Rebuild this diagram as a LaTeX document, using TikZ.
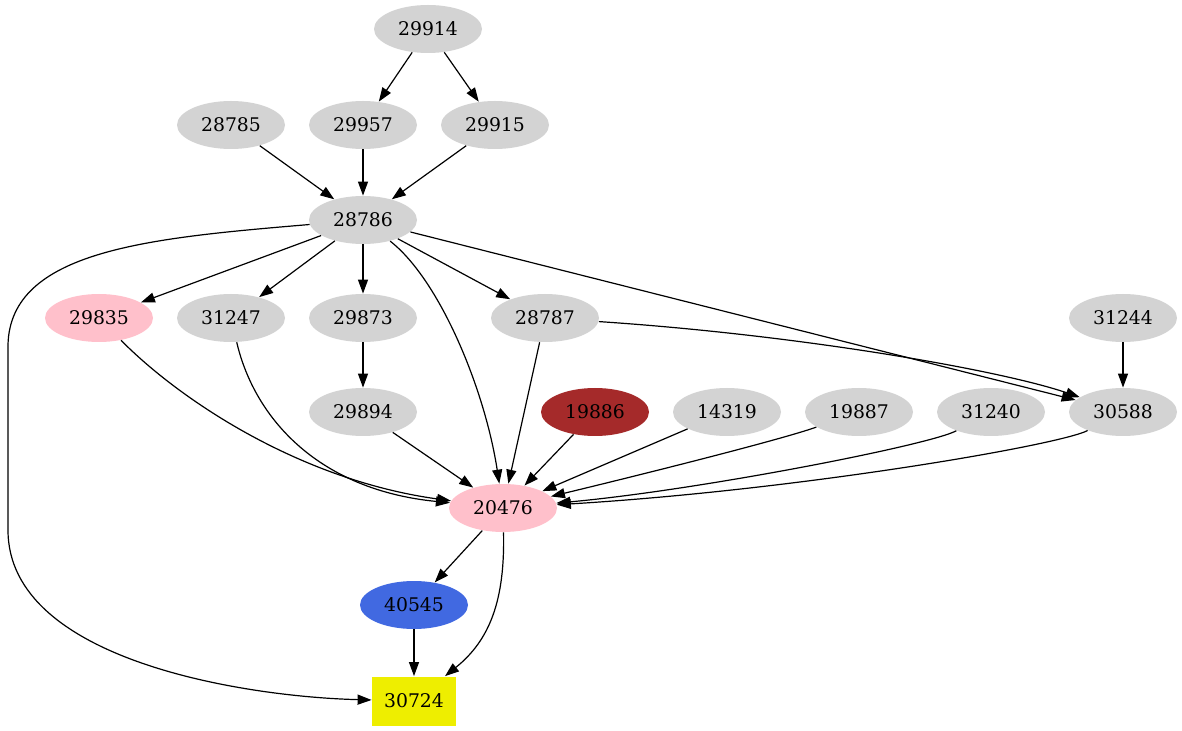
\documentclass[tikz,border=0pt]{standalone}
\usepackage{fontspec}
\setmainfont{DejaVu Serif}
\usetikzlibrary{shapes.geometric,arrows.meta}
\definecolor{node-gray}{HTML}{D3D3D3}
\definecolor{node-pink}{HTML}{FFC0CB}
\definecolor{node-brown}{HTML}{A52A2A}
\definecolor{node-blue}{HTML}{4169E1}
\definecolor{node-yellow}{HTML}{EEEE00}
\tikzset{
    base-node/.style = {ellipse, minimum width=54pt, minimum height=24pt, inner sep=0pt, font=\fontsize{9.4}{11}\selectfont},
    gray-node/.style = {base-node, fill=node-gray},
    pink-node/.style = {base-node, fill=node-pink},
    brown-node/.style = {base-node, fill=node-brown},
    blue-node/.style = {base-node, fill=node-blue},
    box-node/.style = {rectangle, fill=node-yellow, minimum width=42pt, minimum height=24.5pt, inner sep=0pt, font=\fontsize{9.4}{11}\selectfont},
    edge/.style = {-{Triangle[length=7pt, width=5pt]}, line width=0.6pt},
}

\begin{document}
\begin{tikzpicture}[x=0.5pt, y=-0.5pt]
\useasboundingbox (0,0) rectangle (1182,731);
\node[gray-node] (n29914) at (428,29) {29914};
\node[gray-node] (n28785) at (231,125) {28785};
\node[gray-node] (n29957) at (363,125) {29957};
\node[gray-node] (n29915) at (495,125) {29915};
\node[gray-node] (n28786) at (363,220) {28786};
\node[pink-node] (n29835) at (99,318) {29835};
\node[gray-node] (n31247) at (231,318) {31247};
\node[gray-node] (n29873) at (363,318) {29873};
\node[gray-node] (n28787) at (545,318) {28787};
\node[gray-node] (n31244) at (1123,318) {31244};
\node[gray-node] (n29894) at (363,412) {29894};
\node[brown-node] (n19886) at (595,412) {19886};
\node[gray-node] (n14319) at (727,412) {14319};
\node[gray-node] (n19887) at (859,412) {19887};
\node[gray-node] (n31240) at (991,412) {31240};
\node[gray-node] (n30588) at (1123,412) {30588};
\node[pink-node] (n20476) at (503,508) {20476};
\node[blue-node] (n40545) at (414,605) {40545};
\node[box-node] (n30724) at (414,701) {30724};

\draw[edge] (n29914) -- (n29957);
\draw[edge] (n29914) -- (n29915);
\draw[edge] (n28785) -- (n28786);
\draw[edge] (n29957) -- (n28786);
\draw[edge] (n29915) -- (n28786);
\draw[edge] (n28786) .. controls (150,238) and (10,250) .. (8,345) -- (8,530) .. controls (8,662) and (250,697) .. (n30724);
\draw[edge] (n28786) -- (n29835);
\draw[edge] (n28786) -- (n31247);
\draw[edge] (n28786) -- (n29873);
\draw[edge] (n28786) .. controls (440,280) and (485,390) .. (n20476);
\draw[edge] (n28786) -- (n28787);
\draw[edge] (n28786) -- (n30588);
\draw[edge] (n29835) .. controls (180,400) and (300,480) .. (n20476);
\draw[edge] (n31247) .. controls (255,420) and (320,490) .. (n20476);
\draw[edge] (n29873) -- (n29894);
\draw[edge] (n29894) -- (n20476);
\draw[edge] (n28787) -- (n20476);
\draw[edge] (n28787) .. controls (800,335) and (1000,370) .. (n30588);
\draw[edge] (n31244) -- (n30588);
\draw[edge] (n19886) -- (n20476);
\draw[edge] (n14319) -- (n20476);
\draw[edge] (n19887) .. controls (780,440) and (640,475) .. (n20476);
\draw[edge] (n31240) .. controls (930,445) and (700,490) .. (n20476);
\draw[edge] (n30588) .. controls (1060,445) and (800,490) .. (n20476);
\draw[edge] (n20476) -- (n40545);
\draw[edge] (n20476) .. controls (505,600) and (490,640) .. (n30724);
\draw[edge] (n40545) -- (n30724);
\end{tikzpicture}
\end{document}
